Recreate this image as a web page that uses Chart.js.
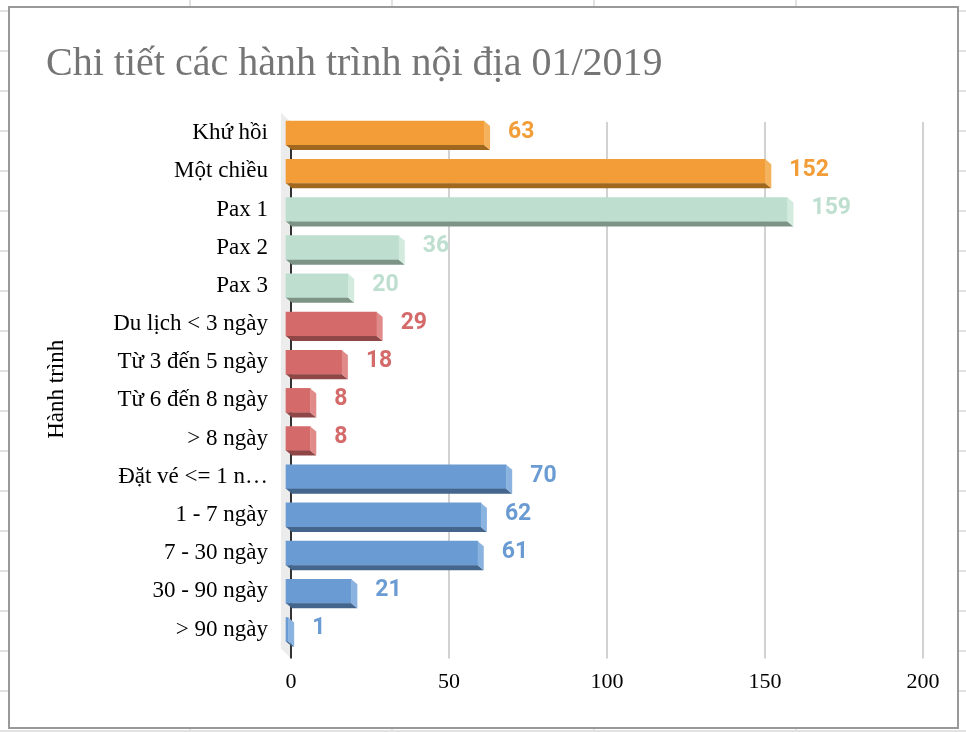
<!DOCTYPE html>
<html lang="vi">
<head>
    <meta charset="UTF-8">
    <title>Chi tiết các hành trình nội địa 01/2019</title>
    <script src="https://cdn.jsdelivr.net/npm/chart.js"></script>
    <style>
        html, body { margin: 0; padding: 0; }
        body {
            width: 966px; height: 732px; overflow: hidden; position: relative;
            background-color: #fff;
            background-image:
                repeating-linear-gradient(to bottom, transparent 0 10px, #e2e2e2 10px 12px, transparent 12px 40px),
                repeating-linear-gradient(to right, transparent 0 189px, #e2e2e2 189px 191px, transparent 191px 202px);
        }
        .chart-box {
            position: absolute; left: 8px; top: 6px;
            width: 947px; height: 719px;
            border: 2px solid #999; background: #fff;
        }
        canvas { display: block; }
    </style>
</head>
<body>
<div class="chart-box"><canvas id="chart" width="947" height="719"></canvas></div>

<script>
    // du lieu doc tu hinh
    const categories = ["Khứ hồi", "Một chiều", "Pax 1", "Pax 2", "Pax 3",
        "Du lịch < 3 ngày", "Từ 3 đến 5 ngày", "Từ 6 đến 8 ngày", "> 8 ngày",
        "Đặt vé <= 1 n…", "1 - 7 ngày", "7 - 30 ngày", "30 - 90 ngày", "> 90 ngày"];
    const values = [63, 152, 159, 36, 20, 29, 18, 8, 8, 70, 62, 61, 21, 1];
    const groupOf = [0, 0, 1, 1, 1, 2, 2, 2, 2, 3, 3, 3, 3, 3];
    const xTicks = [0, 50, 100, 150, 200];

    // mau cho tung nhom: mat truoc, mat duoi, mat ben
    const frontColors = ["#f29d38", "#bedfcf", "#d46a6a", "#6a9bd2"];
    const bottomColors = ["#a0671f", "#7c9386", "#8e4646", "#45668c"];
    const sideColors = ["#f5b25c", "#d3ebdf", "#e08a8a", "#8ab3e0"];

    const DX = 6, DY = 8, DEPTH_Y = 5;

    const bar3d = {
        id: "bar3d",
        beforeDraw(chart) {
            const ctx = chart.ctx;
            const a = chart.chartArea;
            ctx.save();
            ctx.fillStyle = "#ececec";
            ctx.beginPath();
            ctx.moveTo(a.left - 10, a.top - 9);
            ctx.lineTo(a.left, a.top);
            ctx.lineTo(a.left, a.bottom + 2);
            ctx.lineTo(a.left - 10, a.bottom - 8);
            ctx.closePath();
            ctx.fill();
            ctx.restore();
        },
        beforeDatasetDraw(chart) {
            chart.ctx.save();
            chart.ctx.translate(-DX, -DY);
        },
        afterDatasetDraw(chart) {
            chart.ctx.restore();
        },
        afterDatasetsDraw(chart) {
            const ctx = chart.ctx;
            const meta = chart.getDatasetMeta(0);
            ctx.save();
            meta.data.forEach((bar, i) => {
                const g = groupOf[i];
                const x = bar.x, base = bar.base;
                const h = bar.height / 2;
                const fy = bar.y - DY;
                // mat duoi
                ctx.fillStyle = bottomColors[g];
                ctx.beginPath();
                ctx.moveTo(base - DX, fy + h);
                ctx.lineTo(x - DX, fy + h);
                ctx.lineTo(x, fy + h + DEPTH_Y);
                ctx.lineTo(base, fy + h + DEPTH_Y);
                ctx.closePath();
                ctx.fill();
                // mat ben
                ctx.fillStyle = sideColors[g];
                ctx.beginPath();
                ctx.moveTo(x - DX, fy - h);
                ctx.lineTo(x, fy - h + DEPTH_Y);
                ctx.lineTo(x, fy + h + DEPTH_Y);
                ctx.lineTo(x - DX, fy + h);
                ctx.closePath();
                ctx.fill();
                // nhan gia tri
                ctx.fillStyle = frontColors[g];
                ctx.font = "bold 23px Roboto";
                ctx.textAlign = "left";
                ctx.textBaseline = "middle";
                ctx.fillText(values[i], x + 18, fy - 1);
            });
            ctx.restore();
        }
    };

    new Chart(document.getElementById("chart"), {
        type: "bar",
        data: {
            labels: categories,
            datasets: [{
                data: values,
                backgroundColor: groupOf.map(g => frontColors[g]),
                barThickness: 24,
                borderWidth: 0,
                clip: false
            }]
        },
        options: {
            indexAxis: "y",
            responsive: false,
            animation: false,
            layout: { padding: { left: 36, right: 34, top: 0, bottom: 22 } },
            plugins: {
                legend: { display: false },
                tooltip: { enabled: false },
                title: {
                    display: true,
                    text: "Chi tiết các hành trình nội địa 01/2019",
                    align: "start",
                    color: "#757575",
                    font: { family: "'Liberation Serif', serif", size: 40, weight: "normal" },
                    padding: { top: 32, bottom: 34 }
                }
            },
            scales: {
                x: {
                    min: 0,
                    max: 200,
                    afterBuildTicks: scale => { scale.ticks = xTicks.map(v => ({ value: v })); },
                    border: { display: false },
                    grid: {
                        color: c => (c.tick && c.tick.value === 0) ? "#333" : "#d2d2d2",
                        lineWidth: 2,
                        drawTicks: true,
                        tickLength: 2
                    },
                    ticks: {
                        padding: 10,
                        color: "#000",
                        font: { family: "'Liberation Serif', serif", size: 22 }
                    }
                },
                y: {
                    afterFit: scale => { scale.width = 245; },
                    border: { display: false },
                    grid: { display: false, drawTicks: false },
                    ticks: {
                        padding: 23,
                        labelOffset: -8,
                        color: "#000",
                        font: { family: "'Liberation Serif', serif", size: 23 }
                    },
                    title: {
                        display: true,
                        text: "Hành trình",
                        color: "#000",
                        padding: { top: -3, bottom: 0 },
                        font: { family: "'Liberation Serif', serif", size: 23 }
                    }
                }
            }
        },
        plugins: [bar3d]
    });
</script>
</body>
</html>
